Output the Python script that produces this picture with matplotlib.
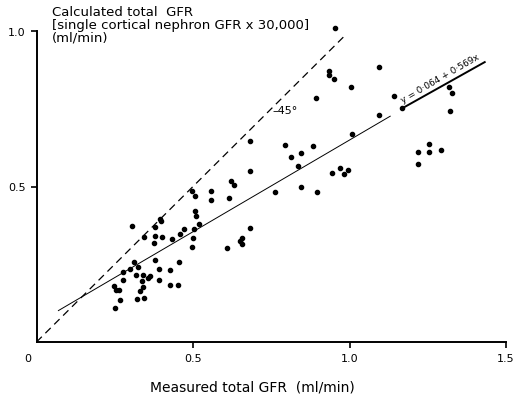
import matplotlib
matplotlib.use("Agg")
import matplotlib.pyplot as plt

# measured total GFR (ml/min)
measured = [0.251, 0.266, 0.248, 0.253, 0.264, 0.275, 0.275, 0.299, 0.312, 0.325,
            0.319, 0.339, 0.362, 0.357, 0.336, 0.340, 0.332, 0.322, 0.344, 0.306,
            0.394, 0.399, 0.380, 0.342, 0.379, 0.400, 0.375, 0.379, 0.392, 0.390,
            0.425, 0.425, 0.453, 0.455, 0.433, 0.460, 0.472, 0.497, 0.507, 0.506,
            0.508, 0.519, 0.504, 0.500, 0.498, 0.559, 0.557, 0.615, 0.621, 0.632,
            0.609, 0.655, 0.650, 0.655, 0.681, 0.682, 0.681, 0.763, 0.794, 0.814,
            0.844, 0.883, 0.834, 0.844, 0.895, 0.945, 0.970, 0.981, 0.996, 1.009,
            0.953, 0.934, 0.934, 0.952, 1.005, 0.894, 1.093, 1.143, 1.093, 1.169,
            1.319, 1.328, 1.320, 1.253, 1.219, 1.253, 1.292, 1.220]
# calculated total GFR (ml/min)
calculated = [0.109, 0.136, 0.179, 0.168, 0.166, 0.198, 0.224, 0.235, 0.256, 0.242,
              0.215, 0.216, 0.213, 0.206, 0.196, 0.177, 0.164, 0.138, 0.142, 0.372,
              0.395, 0.389, 0.369, 0.337, 0.342, 0.337, 0.318, 0.265, 0.235, 0.199,
              0.232, 0.182, 0.184, 0.258, 0.330, 0.347, 0.363, 0.486, 0.470, 0.420,
              0.404, 0.381, 0.364, 0.333, 0.305, 0.485, 0.456, 0.463, 0.519, 0.505,
              0.302, 0.336, 0.325, 0.315, 0.646, 0.550, 0.365, 0.483, 0.633, 0.594,
              0.608, 0.631, 0.565, 0.500, 0.482, 0.544, 0.560, 0.539, 0.554, 0.670,
              1.010, 0.870, 0.860, 0.847, 0.819, 0.786, 0.884, 0.790, 0.731, 0.751,
              0.820, 0.802, 0.744, 0.637, 0.610, 0.612, 0.618, 0.571]

# identity line and regression line as drawn
ident_x = [0.0, 0.99]
ident_y = [0.0, 0.99]
fit_x = [0.07, 1.13]
fit_y = [0.101, 0.726]
fit_thick_x = [1.166, 1.432]
fit_thick_y = [0.750, 0.900]

fig = plt.figure(figsize=(5.22, 4.02), dpi=100)
ax = fig.add_axes([36.5 / 522, 59 / 402, (506 - 36.5) / 522, (343 - 32) / 402])

ax.plot(ident_x, ident_y, color='black', lw=0.9, linestyle=(0, (6, 4)))
ax.plot(fit_x, fit_y, color='black', lw=0.7)
ax.plot(fit_thick_x, fit_thick_y, color='black', lw=1.4)
ax.scatter(measured, calculated, s=9, color='black', zorder=3, clip_on=False)

ax.text(1.175, 0.765, 'y = 0·064 + 0·569x', fontsize=6.5, rotation=30,
        rotation_mode='anchor', ha='left', va='bottom')
ax.text(0.755, 0.745, '–45°', fontsize=8, ha='left', va='center')

ax.set_xlim(0, 1.5)
ax.set_ylim(0, 1.0)
ax.spines['top'].set_visible(False)
ax.spines['right'].set_visible(False)
ax.spines['left'].set_linewidth(1.4)
ax.spines['bottom'].set_linewidth(1.4)
ax.set_xticks([0.5, 1.0, 1.5])
ax.set_xticklabels(['0.5', '1.0', '1.5'])
ax.set_yticks([0.5, 1.0])
ax.set_yticklabels(['0.5', '1.0'])
ax.tick_params(direction='out', length=4, width=1.2, labelsize=8, pad=4)
ax.text(-0.018, -0.05, '0', transform=ax.transAxes, fontsize=8, ha='center', va='center')

fig.text(52 / 522, 1 - 12 / 402, 'Calculated total  GFR', fontsize=9.5, va='center')
fig.text(52 / 522, 1 - 25 / 402, '[single cortical nephron GFR x 30,000]', fontsize=9.5, va='center')
fig.text(52 / 522, 1 - 38 / 402, '(ml/min)', fontsize=9.5, va='center')
fig.text(252 / 522, 1 - 388 / 402, 'Measured total GFR  (ml/min)', fontsize=10,
         ha='center', va='center')

fig.savefig('out.png', dpi=100)
